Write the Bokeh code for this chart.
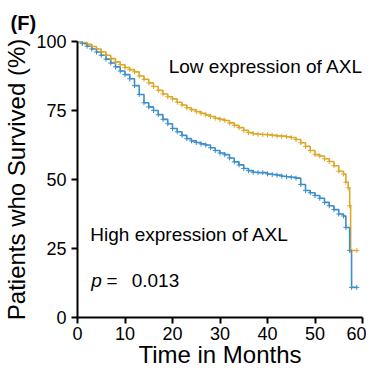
from bokeh.plotting import figure
from bokeh.models import Range1d, Label, FixedTicker
from bokeh.embed import file_html
from bokeh.resources import INLINE

# Data (Kaplan-Meier step curves, % surviving)
low_t = [0, 1, 2, 3, 4, 5, 6, 7, 8, 9, 10, 11, 12, 13, 14, 15, 16, 17, 18, 19, 20,
         21, 22, 23, 24, 25, 26, 27, 28, 29, 30, 31, 32, 33, 34, 35, 36, 37, 38, 39, 40,
         41, 42, 43, 44, 45, 46, 47, 48, 49, 50, 51, 52, 53, 54, 55, 56, 56.5, 57, 57.3, 57.5, 58.8]
low_s = [100, 99.6, 99, 98.2, 97.3, 96.2, 95, 93.8, 92.6, 91.6, 90.6, 89.8, 89, 87.5, 86.3, 85, 83.7, 82.3, 81, 80, 79.2,
         78, 77, 76, 75.3, 74.6, 74, 73.4, 72.8, 72.2, 71.8, 71.4, 70.5, 69.6, 68.8, 67.8, 67, 66.6, 66.4, 66.3, 66.2,
         66, 65.8, 65.7, 65.5, 65.2, 64.5, 63.3, 62, 60.5, 59, 58.5, 57.5, 56.5, 55, 53, 52, 49, 47, 40.5, 24.3, 24.3]

high_t = [0, 1, 2, 3, 4, 5, 6, 7, 8, 9, 10, 11, 12, 13, 14, 15, 16, 17, 18, 19, 20,
          21, 22, 23, 24, 25, 26, 27, 28, 29, 30, 31, 32, 33, 34, 35, 36, 37, 38, 39, 40,
          41, 42, 43, 44, 45, 46, 47, 48, 49, 50, 51, 52, 53, 54, 55, 56, 56.5, 57.3, 57.7, 58.8]
high_s = [100, 99.3, 98.3, 97.3, 96.2, 95, 93.6, 92.2, 90.8, 89.3, 88, 86.5, 84, 80.8, 77.8, 76.3, 75, 73.5, 71.8, 70.2, 68.5,
          67.3, 66, 64.8, 64, 63.4, 62.9, 62.5, 61.5, 60.5, 59.6, 59, 57.8, 56.4, 55.3, 54, 53.2, 52.6, 52.5, 52.5, 52,
          51.8, 51.6, 51.2, 51, 50.8, 50.5, 48.2, 46, 45.2, 44.2, 43.2, 41.7, 40.5, 39.1, 37.5, 36.8, 32.6, 24.3, 10.9, 10.9]

x_ticks = [0, 10, 20, 30, 40, 50, 60]
y_ticks = [0, 25, 50, 75, 100]

FONT = "Liberation Sans"
ORANGE = "#DDA82A"
BLUE = "#3C8FCB"

p = figure(width=366, height=371, output_backend="svg", toolbar_location=None,
           x_range=Range1d(0, 60), y_range=Range1d(0, 100),
           min_border_left=72, min_border_right=4, min_border_top=41, min_border_bottom=54)
p.outline_line_color = None
p.grid.visible = False
p.background_fill_color = "white"

p.step(low_t, low_s, mode="after", line_color=ORANGE, line_width=1.6)
p.step(high_t, high_s, mode="after", line_color=BLUE, line_width=1.6)
p.scatter(low_t[1:], low_s[1:], marker="cross", size=5, line_color=ORANGE, line_width=1)
p.scatter(high_t[1:], high_s[1:], marker="cross", size=5, line_color=BLUE, line_width=1)

for ax in (p.xaxis[0], p.yaxis[0]):
    ax.axis_line_width = 2
    ax.axis_line_color = "black"
    ax.major_tick_line_width = 2
    ax.major_tick_out = 6
    ax.major_tick_in = 0
    ax.minor_tick_line_color = None
    ax.major_label_text_font = FONT
    ax.major_label_text_font_size = "18px"
    ax.major_label_text_color = "black"
    ax.axis_label_text_font = FONT
    ax.axis_label_text_font_size = "24px"
    ax.axis_label_text_font_style = "normal"
    ax.axis_label_text_color = "black"

p.xaxis.ticker = FixedTicker(ticks=x_ticks)
p.yaxis.ticker = FixedTicker(ticks=y_ticks)
p.xaxis.axis_label = "Time in Months"
p.yaxis.axis_label = "Patients who Survived (%)"
p.xaxis.major_label_standoff = 3
p.yaxis.major_label_standoff = 5
p.xaxis.axis_label_standoff = -2
p.yaxis.axis_label_standoff = 3

def lab(x, y, text, size="19px", style="normal"):
    p.add_layout(Label(x=x, y=y, text=text, text_font=FONT, text_font_size=size,
                       text_font_style=style, text_color="black", text_baseline="middle",
                       text_align="left"))

lab(19.2, 91.1, "Low expression of AXL")
lab(2.7, 30.1, "High expression of AXL")
lab(2.9, 13.4, "p", style="italic")
lab(6.1, 13.4, "=")
lab(11.4, 13.4, "0.013")

p.add_layout(Label(x=-67, y=19, x_units="screen", y_units="screen", text="(F)",
                   text_font=FONT, text_font_size="20px", text_font_style="bold",
                   text_color="black", text_baseline="middle", text_align="left"),
             "above")

open("out.html", "w").write(file_html(p, INLINE))
